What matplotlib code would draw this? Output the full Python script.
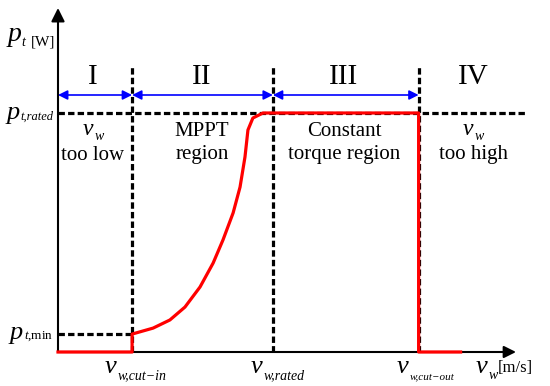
import matplotlib.pyplot as plt

plt.rcParams['mathtext.fontset'] = 'custom'
plt.rcParams['mathtext.rm'] = 'Liberation Serif'
plt.rcParams['mathtext.it'] = 'Liberation Serif:italic'
plt.rcParams['font.family'] = 'Liberation Serif'

# wind speed thresholds [m/s] and normalised power levels
v_cut_in = 3.0
v_rated = 8.7
v_cut_out = 14.6
p_rated = 1.0
p_min = 0.075

# power curve
curve_v = [0.0, 3.0, 3.0, 3.85, 4.53, 5.14, 5.75, 6.28, 6.68, 7.09, 7.37,
           7.57, 7.69, 7.89, 8.30, 8.70, 14.6, 14.6, 16.3]
curve_p = [0.0, 0.0, 0.075, 0.10, 0.134, 0.188, 0.272, 0.372, 0.469, 0.582,
           0.69, 0.816, 0.929, 0.979, 1.0, 1.0, 1.0, 0.0, 0.0]

region_names = ['I', 'II', 'III', 'IV']
region_top = ['v', 'MPPT', 'Constant', 'v']
region_bottom = ['too low', 'region', 'torque region', 'too high']

# pixel scale of the original drawing
sx = 24.7
sy = 239.0

fig = plt.figure(figsize=(5.5, 3.86), dpi=100)
ax = fig.add_axes([0, 0, 1, 1])
ax.set_xlim(-58 / sx, (550 - 58) / sx)
ax.set_ylim((352 - 386) / sy, 352 / sy)
ax.axis('off')


def px(x):
    return (x - 58) / sx


def py(y):
    return (352 - y) / sy


def label_left(x, y, main, sub, size=19, sub_size=10, dy=-1, dx=0.5):
    # italic letter with a small subscript to the right of it
    t = ax.text(x, y, main, fontsize=size, style='italic', ha='left', va='baseline')
    ax.annotate(sub, xy=(1, 0), xycoords=t, xytext=(dx, dy), textcoords='offset points',
                fontsize=sub_size, style='italic', ha='left', va='baseline')
    return t


def label_right(x, y, main, sub, size=19, sub_size=9, dy=3, dx=-0.5):
    # same, but the whole label ends at x
    s = ax.text(x, y, sub, fontsize=sub_size, style='italic', ha='right', va='baseline')
    ax.annotate(main, xy=(0, 0), xycoords=s, xytext=(dx, dy), textcoords='offset points',
                fontsize=size, style='italic', ha='right', va='baseline')
    return s


x_end = px(516)
y_end = py(8)
y_top = py(65)
y_arrow = py(95)

# axes with arrow heads
ax.annotate('', xy=(x_end, 0), xytext=(0, 0),
            arrowprops=dict(arrowstyle='-|>', color='black', lw=1.5,
                            mutation_scale=18, shrinkA=0, shrinkB=0))
ax.annotate('', xy=(0, y_end), xytext=(0, 0),
            arrowprops=dict(arrowstyle='-|>', color='black', lw=1.5,
                            mutation_scale=20, shrinkA=0, shrinkB=0))

dash = dict(color='black', lw=2.3, dashes=(2.0, 1.0))
for v in [v_cut_in, v_rated, v_cut_out]:
    ax.plot([v, v], [0, y_top], **dash)
ax.plot([0, px(525)], [p_rated, p_rated], **dash)
ax.plot([0, v_cut_in], [p_min, p_min], **dash)

ax.plot(curve_v, curve_p, color='red', lw=2.3, solid_joinstyle='round', zorder=5)

# blue region arrows
edges = [0, v_cut_in, v_rated, v_cut_out]
for a, b in zip(edges[:-1], edges[1:]):
    ax.annotate('', xy=(b, y_arrow), xytext=(a, y_arrow),
                arrowprops=dict(arrowstyle='<|-|>', color='blue', lw=1.2,
                                mutation_scale=14, shrinkA=0, shrinkB=0))

centers = [px(93), px(202), px(344), px(473)]
for c, name, top, bottom in zip(centers, region_names, region_top, region_bottom):
    ax.text(c, py(77), name, ha='center', va='center', fontsize=21)
    if top == 'v':
        label_left(c - 10 / sx, py(135), 'v', 'w', size=17, sub_size=10, dy=0)
    else:
        ax.text(c, py(131), top, ha='center', va='center', fontsize=15)
    ax.text(c, py(155), bottom, ha='center', va='center', fontsize=15)

# axis labels
label_left(px(8), py(41), 'p', 't', size=20, sub_size=10, dy=1, dx=0)
ax.text(px(31), py(45), '[W]', ha='left', va='baseline', fontsize=11)
label_right(px(53), py(120), 'p', 't,rated', sub_size=9)
label_right(px(53), py(339), 'p', r'$t{,}\mathrm{min}$', sub_size=9.5)

label_left(px(105), py(373), 'v', 'w,cut\u2212in', sub_size=10)
label_left(px(251), py(373), 'v', 'w,rated', sub_size=10)
label_left(px(397), py(373), 'v', 'w,cut\u2212out', sub_size=8)
label_left(px(476), py(373), 'v', 'w', sub_size=10)
ax.text(px(498), py(372), '[m/s]', ha='left', va='baseline', fontsize=12)

fig.savefig('out.png', dpi=100)
